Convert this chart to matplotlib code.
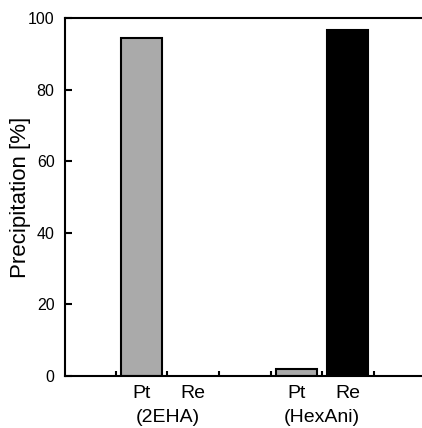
import numpy as np
import matplotlib.pyplot as plt

plt.rcParams['font.family'] = ['Liberation Sans', 'DejaVu Sans']

metals = ['Pt', 'Re', 'Pt', 'Re']
positions = [1, 2, 4, 5]
precip = [94.4, 0.0, 2.0, 96.7]
colors = ['#aaaaaa', '#aaaaaa', '#aaaaaa', '#000000']
groups = ['(2EHA)', '(HexAni)']
group_pos = [1.5, 4.5]

fig = plt.figure(figsize=(4.22, 4.28), dpi=100)
ax = fig.add_axes([0.154, 0.1222, 0.846, 0.835])

# zero bars leave no outline
edges = ['black' if v > 0 else 'none' for v in precip]
ax.bar(positions, precip, width=0.8, color=colors, edgecolor=edges, linewidth=1.5)

ax.set_xlim(-0.489, 6.44)
ax.set_ylim(0, 100)
ax.set_yticks([0, 20, 40, 60, 80, 100])
ax.set_xticks(positions)
ax.set_xticklabels(metals, fontsize=14)
ax.set_xticks(np.arange(0.5, 6, 1.0), minor=True)
ax.tick_params(axis='x', which='major', length=0, pad=6.5)
ax.tick_params(axis='x', which='minor', direction='in', length=3.6, width=1.5)
ax.tick_params(axis='y', direction='in', length=5, width=1.5, labelsize=11.5, pad=7.5)

for g, p in zip(groups, group_pos):
    ax.text(p, -0.13, g, transform=ax.get_xaxis_transform(), ha='center', va='baseline', fontsize=14)

ax.set_ylabel('Precipitation [%]', fontsize=16)
ax.yaxis.set_label_coords(-0.094, 0.5)

for s in ['left', 'bottom', 'top']:
    ax.spines[s].set_linewidth(1.5)
ax.spines['right'].set_visible(False)

fig.savefig('out.png', dpi=100)
